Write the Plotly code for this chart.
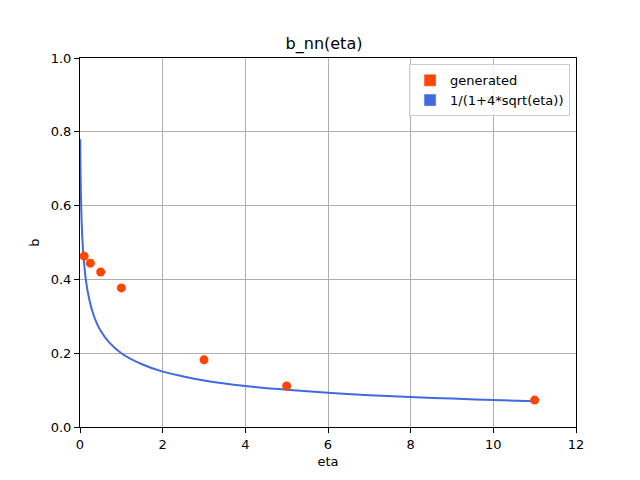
import plotly.graph_objects as go

# generated points
eta_gen = [0.1, 0.25, 0.5, 1.0, 3.0, 5.0, 11.0]
b_gen = [0.463, 0.444, 0.42, 0.377, 0.182, 0.111, 0.073]

# reference curve
eta_curve = [0.005, 0.01, 0.02, 0.04, 0.07, 0.1, 0.15, 0.2, 0.3, 0.4, 0.5, 0.7,
             1.0, 1.5, 2.0, 2.5, 3.0, 4.0, 5.0, 6.0, 7.0, 8.0, 9.0, 10.0, 11.0]
b_curve = [0.78, 0.714, 0.639, 0.556, 0.486, 0.442, 0.392, 0.359, 0.313, 0.283, 0.261, 0.230,
           0.200, 0.170, 0.150, 0.137, 0.126, 0.111, 0.101, 0.093, 0.086, 0.081, 0.077, 0.073, 0.070]

red = "#FF4500"
blue = "#4169E1"

fig = go.Figure()
fig.add_trace(go.Scatter(x=eta_curve, y=b_curve, mode="lines", line=dict(color=blue, width=2, shape="spline"),
                         showlegend=False))
fig.add_trace(go.Scatter(x=eta_gen, y=b_gen, mode="markers", marker=dict(color=red, size=9),
                         showlegend=False))
# legend entries drawn as patches like matplotlib
fig.add_trace(go.Bar(x=[None], y=[None], marker_color=red, name="generated"))
fig.add_trace(go.Bar(x=[None], y=[None], marker_color=blue, name="1/(1+4*sqrt(eta))"))

axis = dict(showline=True, linecolor="black", linewidth=1, mirror=True,
            ticks="outside", ticklen=5, tickcolor="black",
            showgrid=True, gridcolor="#b0b0b0", gridwidth=1, zeroline=False,
            tickfont=dict(size=13, color="black"))

# page body adds 8px, so figure is a bit smaller and margins shifted
fig.update_layout(
    width=632, height=472,
    margin=dict(l=72, r=64, t=50, b=53),
    paper_bgcolor="white", plot_bgcolor="white",
    font=dict(family="DejaVu Sans", color="black"),
    title=dict(text="b_nn(eta)", x=0.5, xanchor="center", y=0.913, yanchor="bottom",
               font=dict(size=16)),
    xaxis=dict(axis, range=[0, 12], dtick=2, title=dict(text="eta", font=dict(size=13), standoff=6)),
    yaxis=dict(axis, range=[0, 1], dtick=0.2, tickformat=".1f", title=dict(text="b", font=dict(size=13), standoff=8)),
    legend=dict(x=0.988, y=0.983, xanchor="right", yanchor="top", bgcolor="rgba(255,255,255,0.8)",
                bordercolor="#cccccc", borderwidth=1, font=dict(size=13)),
)

fig.write_html("out.html")
